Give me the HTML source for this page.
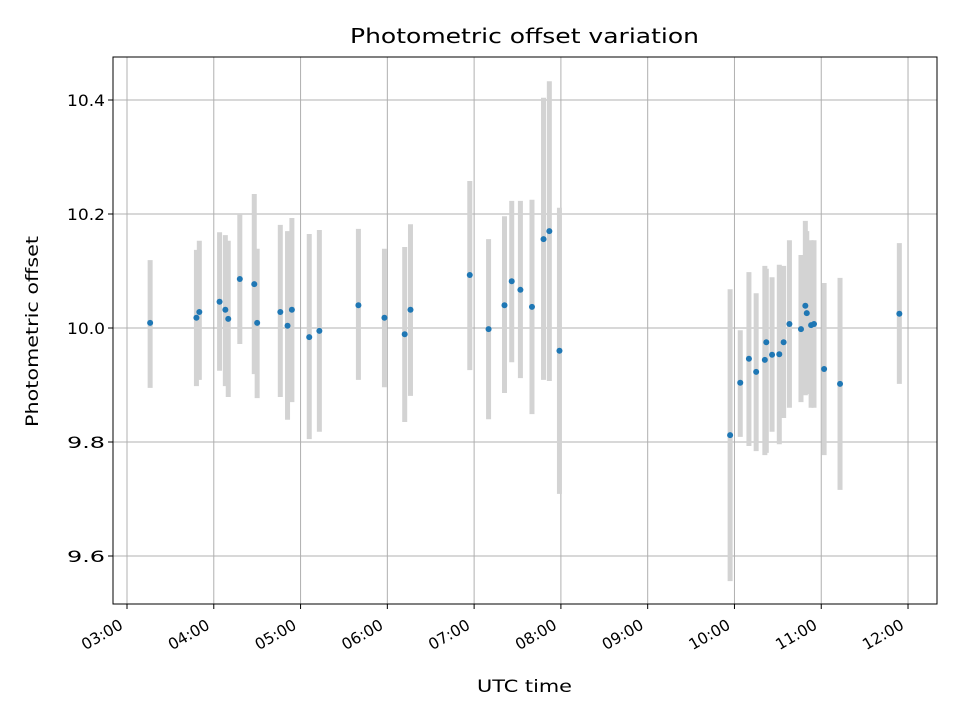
<!DOCTYPE html>
<html><head><meta charset="utf-8"><style>
body{margin:0;background:#fff;}
svg text{font-family:"DejaVu Sans","Liberation Sans",sans-serif;}
</style></head><body>
<svg id="chart" width="960" height="720" xmlns="http://www.w3.org/2000/svg"></svg>
<script>
const times=["03:16","03:48","03:50","04:04","04:08","04:10","04:18","04:28","04:30","04:46","04:51","04:54","05:06","05:13","05:40","05:58","06:12","06:16","06:57","07:10","07:21","07:26","07:32","07:40","07:48","07:52","07:59","09:57","10:04","10:10","10:15","10:21","10:22","10:26","10:31","10:34","10:38","10:46","10:49","10:50","10:53","10:55","11:02","11:13","11:54"];
const values=[10.009,10.018,10.028,10.046,10.032,10.016,10.086,10.077,10.009,10.028,10.004,10.032,9.984,9.995,10.040,10.018,9.989,10.032,10.093,9.998,10.040,10.082,10.067,10.037,10.156,10.170,9.960,9.812,9.904,9.946,9.923,9.944,9.975,9.953,9.954,9.975,10.007,9.998,10.039,10.026,10.005,10.007,9.928,9.902,10.025];
const upper=[10.119,10.137,10.153,10.168,10.163,10.153,10.200,10.235,10.139,10.181,10.170,10.193,10.165,10.172,10.174,10.139,10.142,10.182,10.258,10.156,10.196,10.223,10.223,10.225,10.404,10.433,10.211,10.068,9.996,10.098,10.061,10.109,10.104,10.089,10.111,10.109,10.154,10.128,10.188,10.170,10.154,10.154,10.079,10.088,10.149];
const lower=[9.895,9.898,9.909,9.925,9.898,9.879,9.972,9.919,9.877,9.879,9.839,9.870,9.805,9.818,9.909,9.896,9.835,9.881,9.926,9.840,9.886,9.940,9.912,9.849,9.909,9.907,9.709,9.556,9.809,9.793,9.784,9.777,9.781,9.818,9.796,9.842,9.860,9.870,9.882,9.884,9.860,9.860,9.777,9.716,9.902];
const xTicks=["03:00","04:00","05:00","06:00","07:00","08:00","09:00","10:00","11:00","12:00"];
const yTicks=[9.6,9.8,10.0,10.2,10.4];

const L=113,R=937,T=57,B=604;
const toH=s=>{const p=s.split(":");return +p[0]+p[1]/60;};
const xs=h=>127+(h-3)*86.78;
const ys=v=>328-(v-10)*570;
const NS="http://www.w3.org/2000/svg";
const svg=document.getElementById("chart");
function mk(tag,attrs,parent){const e=document.createElementNS(NS,tag);for(const k in attrs)e.setAttribute(k,attrs[k]);(parent||svg).appendChild(e);return e;}

const grid=mk("g",{});


xTicks.forEach(t=>{const x=xs(toH(t));mk("line",{x1:x,x2:x,y1:T,y2:B,stroke:"#b0b0b0","stroke-width":1},grid);});
yTicks.forEach(v=>{const y=ys(v);mk("line",{x1:L,x2:R,y1:y,y2:y,stroke:"#b0b0b0","stroke-width":1},grid);});

const eb=mk("g",{});


times.forEach((t,i)=>{const x=xs(toH(t));const l=mk("line",{x1:x,x2:x,y1:ys(upper[i]),y2:ys(lower[i]),stroke:"#d3d3d3","stroke-width":5},eb);

});
const pts=mk("g",{});


times.forEach((t,i)=>{const c=mk("circle",{cx:xs(toH(t)),cy:ys(values[i]),r:3,fill:"#1f77b4"},pts);

});

const frame=mk("rect",{x:L,y:T,width:R-L,height:B-T,fill:"none",stroke:"#000","stroke-width":1});



const xa=mk("g",{});


xTicks.forEach(t=>{const x=xs(toH(t));mk("line",{x1:x,x2:x,y1:B,y2:B+5,stroke:"#000"},xa);
const ax=x-3, ay=B+24;
const tx=mk("text",{x:ax,y:ay,"font-size":15.5,"text-anchor":"end",transform:`rotate(-30 ${ax} ${ay})`},xa);tx.textContent=t;

});
const ya=mk("g",{});


yTicks.forEach(v=>{const y=ys(v);mk("line",{x1:L-5,x2:L,y1:y,y2:y,stroke:"#000"},ya);
const tx=mk("text",{x:L-8,y:y+6,"font-size":16,"text-anchor":"end",textLength:38,lengthAdjust:"spacingAndGlyphs"},ya);tx.textContent=v.toFixed(1);

});

const title=mk("text",{x:350,y:43,"font-size":20,textLength:349,lengthAdjust:"spacingAndGlyphs"});title.textContent="Photometric offset variation";


const xt=mk("text",{x:477,y:692,"font-size":17,textLength:95,lengthAdjust:"spacingAndGlyphs"});xt.textContent="UTC time";


const yt=mk("text",{x:38,y:427,"font-size":17,textLength:191,lengthAdjust:"spacingAndGlyphs",transform:"rotate(-90 38 427)"});yt.textContent="Photometric offset";


</script>
</body></html>
